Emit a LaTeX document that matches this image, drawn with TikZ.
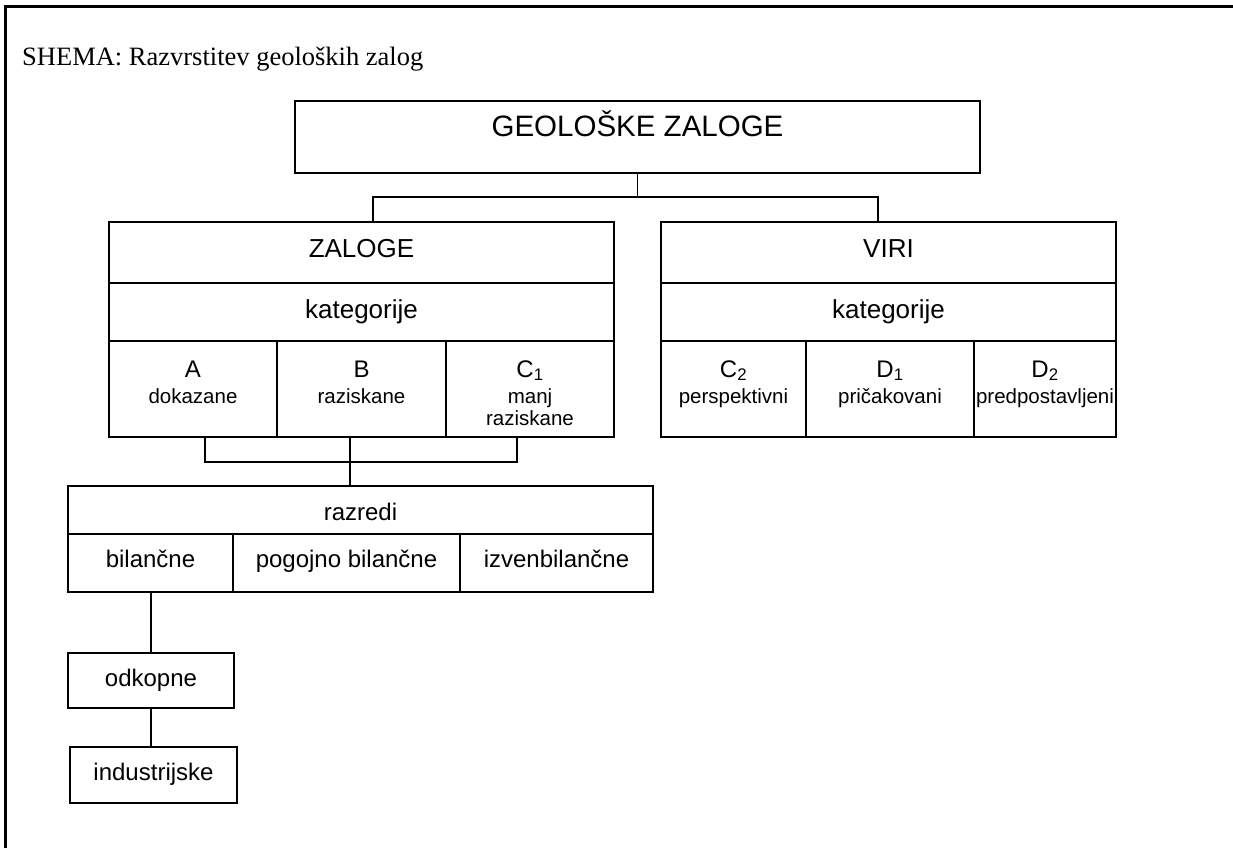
\documentclass[tikz,border=0pt]{standalone}
\usepackage{fontspec}
\setmainfont{Liberation Serif}
\newfontfamily\arialf{Liberation Sans}
\newcommand\fsz[1]{\fontsize{#1}{#1}\selectfont}
\begin{document}
\begin{tikzpicture}[x=1pt,y=-1pt,
  cell/.style={draw, line width=1.9pt, rectangle, inner sep=0pt, anchor=base},
  boxcell/.style={draw, line width=1.9pt, rectangle, inner sep=0pt},
  conn/.style={line width=1.8pt},
  huge/.style={font=\arialf\fsz{29.5}},
  big/.style={font=\arialf\fsz{26}},
  mid/.style={font=\arialf\fsz{24}},
  sml/.style={font=\arialf\fsz{20.5}},
  txt/.style={inner sep=0pt, anchor=base}]
\useasboundingbox (0,0) rectangle (1233,848);
% frame
\draw[line width=3pt] (5,848) -- (5,7) -- (1233,7);
% title
\node[txt, anchor=base west, font=\fsz{26.5}] (title) at (22,66) {SHEMA: Razvrstitev geoloških zalog};
% top box
\node[cell,huge,minimum width=685pt,text height=35pt,text depth=37pt] (geo) at (637.5,136) {GEOLOŠKE ZALOGE};
% ZALOGE
\node[cell,big,minimum width=505pt,text height=35pt,text depth=26pt] (zal) at (361.5,257) {ZALOGE};
\node[cell,big,minimum width=505pt,text height=35pt,text depth=23pt] (zalk) at (361.5,318) {kategorije};
\node[boxcell,minimum width=168pt,minimum height=96pt] (cA) at (193,389) {};
\node[boxcell,minimum width=169pt,minimum height=96pt] (cB) at (361.5,389) {};
\node[boxcell,minimum width=168pt,minimum height=96pt] (cC) at (530,389) {};
\node[txt,mid] (tA) at (193,377) {A};
\node[txt,sml] (dA) at (193,403) {dokazane};
\node[txt,mid] (tB) at (361.5,377) {B};
\node[txt,sml] (dB) at (361.5,403) {raziskane};
\node[txt,mid] (tC) at (530,377) {C\textsubscript{1}};
\node[txt,sml] (dC) at (530,403) {manj};
\node[txt,sml] (dC2) at (530,425) {raziskane};
% VIRI
\node[cell,big,minimum width=455pt,text height=35pt,text depth=26pt] (viri) at (888.5,257) {VIRI};
\node[cell,big,minimum width=455pt,text height=35pt,text depth=23pt] (virik) at (888.5,318) {kategorije};
\node[boxcell,minimum width=145pt,minimum height=96pt] (cC2) at (733.5,389) {};
\node[boxcell,minimum width=168pt,minimum height=96pt] (cD1) at (890,389) {};
\node[boxcell,minimum width=142pt,minimum height=96pt] (cD2) at (1045,389) {};
\node[txt,mid] (tC2) at (733.5,377) {C\textsubscript{2}};
\node[txt,sml] (dC2v) at (733.5,403) {perspektivni};
\node[txt,mid] (tD1) at (890,377) {D\textsubscript{1}};
\node[txt,sml] (dD1) at (890,403) {pričakovani};
\node[txt,mid] (tD2) at (1045,377) {D\textsubscript{2}};
\node[txt,sml] (dD2) at (1045,403) {predpostavljeni};
% razredi
\node[cell,mid,minimum width=585pt,text height=34pt,text depth=14pt] (raz) at (360.5,520) {razredi};
\node[cell,mid,minimum width=165pt,text height=33pt,text depth=25pt] (bil) at (150.5,567) {bilančne};
\node[cell,mid,minimum width=227pt,text height=33pt,text depth=25pt] (pog) at (346.5,567) {pogojno bilančne};
\node[cell,mid,minimum width=193pt,text height=33pt,text depth=25pt] (izv) at (556.5,567) {izvenbilančne};
\node[cell,mid,minimum width=166pt,text height=33pt,text depth=22pt] (odk) at (151,686) {odkopne};
\node[cell,mid,minimum width=167pt,text height=33pt,text depth=23pt] (ind) at (153.5,780) {industrijske};
% connectors
\coordinate (jg) at (637.5,197);
\coordinate (jl) at (373,197);
\coordinate (jr) at (878,197);
\draw[conn] (geo.south) -- (jg);
\draw[conn] (jl |- zal.north) -- (jl) -- (jr) -- (jr |- viri.north);
\coordinate (ba) at (205,462);
\coordinate (bc) at (517,462);
\coordinate (bb) at (350,462);
\draw[conn] (ba |- cA.south) -- (ba) -- (bc) -- (bc |- cC.south);
\draw[conn] (bb |- cB.south) -- (bb |- raz.north);
\draw[conn] (odk.north |- bil.south) -- (odk.north);
\draw[conn] (odk.south) -- (odk.south |- ind.north);
\end{tikzpicture}
\end{document}
